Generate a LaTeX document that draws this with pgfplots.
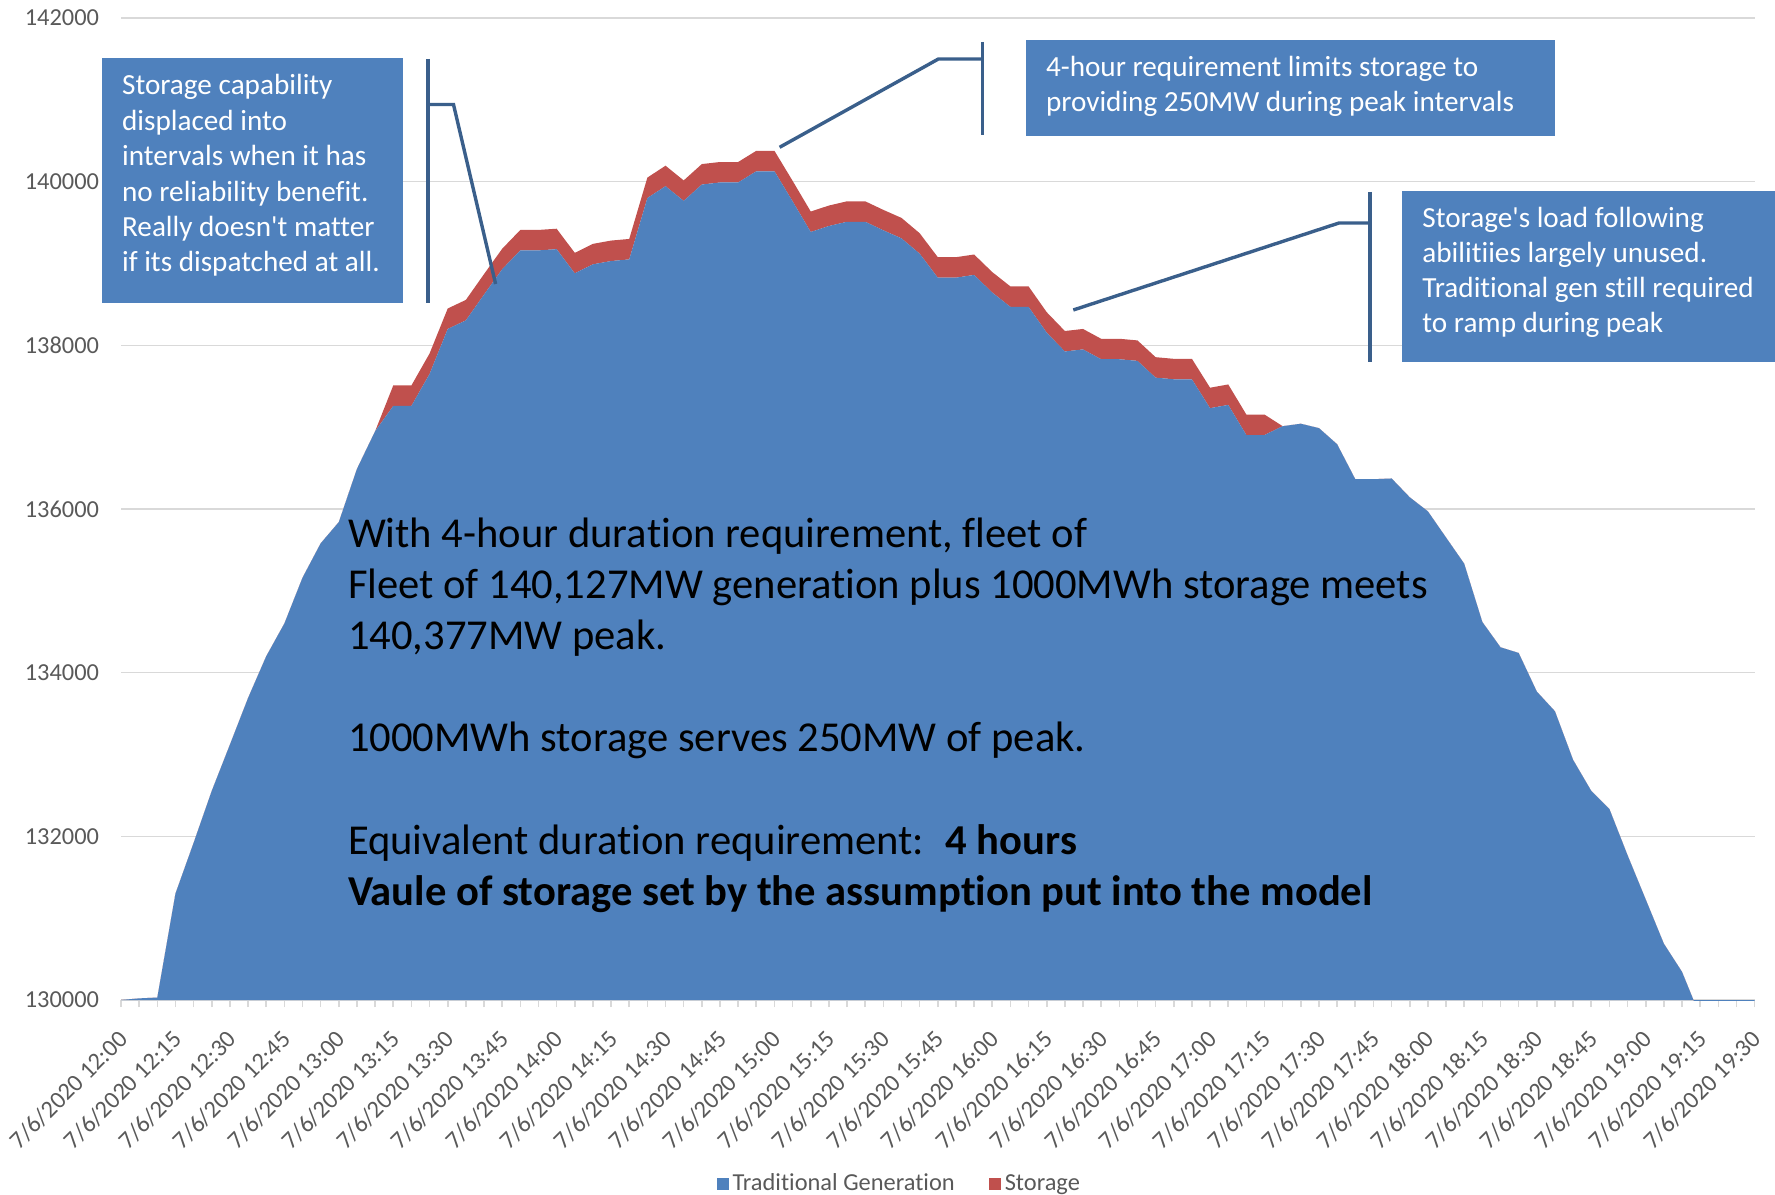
\documentclass[border=0pt]{standalone}
\usepackage{pgfplots}
\pgfplotsset{compat=1.18}
\usepackage{pgfplotstable}
\usepackage{fontspec}
\setmainfont{Carlito}[Ligatures={TeXOff,NoCommon}]
\definecolor{areablue}{HTML}{4F81BD}
\definecolor{areared}{HTML}{C0504D}
\definecolor{boxblue}{HTML}{4F81BD}
\definecolor{callout}{HTML}{3A5F8B}
\definecolor{gridgray}{HTML}{D9D9D9}
\definecolor{labelgray}{HTML}{595959}

\pgfplotstableread{
i trad stor
0 130000 0
1 130020 0
2 130030 0
3 131300 0
4 131920 0
5 132555 0
6 133120 0
7 133690 0
8 134200 0
9 134600 0
10 135160 0
11 135580 0
12 135840 0
13 136490 0
14 136950 0
15 137260 250
16 137260 250
17 137650 250
18 138200 250
19 138305 250
20 138620 250
21 138930 250
22 139160 250
23 139160 250
24 139175 250
25 138880 250
26 138990 250
27 139030 250
28 139050 250
29 139800 250
30 139945 250
31 139765 250
32 139965 250
33 139990 250
34 139990 250
35 140127 250
36 140127 250
37 139760 250
38 139385 250
39 139458 250
40 139510 250
41 139510 250
42 139405 250
43 139307 250
44 139120 250
45 138827 250
46 138827 250
47 138860 250
48 138645 250
49 138470 250
50 138470 250
51 138155 250
52 137925 250
53 137950 250
54 137830 250
55 137830 250
56 137810 250
57 137605 250
58 137585 250
59 137585 250
60 137232 250
61 137272 250
62 136904 250
63 136904 250
64 137012 0
65 137042 0
66 136988 0
67 136791 0
68 136364 0
69 136364 0
70 136373 0
71 136143 0
72 135971 0
73 135651 0
74 135332 0
75 134619 0
76 134310 0
77 134241 0
78 133769 0
79 133528 0
80 132934 0
81 132555 0
82 132334 0
83 131769 0
84 131229 0
85 130688 0
86 130344 0
87 129800 0
88 129700 0
89 129700 0
90 129700 0
}\gen

\begin{document}
\begin{tikzpicture}
\useasboundingbox (0,0) rectangle (887.5pt,597pt);
\begin{axis}[
  at={(60.5pt,97pt)}, anchor=south west,
  scale only axis, width=816.8pt, height=491pt,
  xmin=0, xmax=90, ymin=130000, ymax=142000,
  stack plots=y,
  axis x line*=bottom, axis y line*=left,
  x axis line style={gridgray, line width=1pt},
  y axis line style={draw=none},
  ytick={130000,132000,134000,136000,138000,140000,142000},
  yticklabels={130000,132000,134000,136000,138000,140000,142000},
  ytick style={draw=none},
  ymajorgrids, major grid style={gridgray, line width=0.7pt},
  scaled y ticks=false,
  yticklabel style={font=\fontsize{12.2}{14}\selectfont, text=labelgray, inner sep=0pt, anchor=east},
  yticklabel shift=7.3pt,
  xtick={0,3,...,90},
  minor x tick num=2,
  xtick style={gridgray, line width=0.8pt},
  tick align=outside,
  major tick length=3.5pt, minor tick length=3.5pt,
  xticklabels={7/6/2020 12:00,7/6/2020 12:15,7/6/2020 12:30,7/6/2020 12:45,7/6/2020 13:00,7/6/2020 13:15,7/6/2020 13:30,7/6/2020 13:45,7/6/2020 14:00,7/6/2020 14:15,7/6/2020 14:30,7/6/2020 14:45,7/6/2020 15:00,7/6/2020 15:15,7/6/2020 15:30,7/6/2020 15:45,7/6/2020 16:00,7/6/2020 16:15,7/6/2020 16:30,7/6/2020 16:45,7/6/2020 17:00,7/6/2020 17:15,7/6/2020 17:30,7/6/2020 17:45,7/6/2020 18:00,7/6/2020 18:15,7/6/2020 18:30,7/6/2020 18:45,7/6/2020 19:00,7/6/2020 19:15,7/6/2020 19:30},
  xticklabel style={font=\fontsize{12.2}{14}\selectfont, text=labelgray, inner sep=0pt, anchor=east, xshift=1.2pt, rotate=45},
  xticklabel shift=14pt,
  legend columns=2,
  legend image code/.code={\fill[#1] (0pt,-3pt) rectangle (6pt,3pt);},
  legend style={draw=none, fill=none, at={(0.477,-0.187)}, anchor=center,
    font=\fontsize{12.2}{14}\selectfont, text=labelgray,
    /tikz/every even column/.append style={column sep=15pt}},
]
\addplot [fill=areablue, draw=none] table [x=i, y=trad] {\gen} \closedcycle;
\addlegendentry{Traditional Generation}
\addplot [fill=areared, draw=none] table [x=i, y=stor] {\gen} \closedcycle;
\addlegendentry{Storage}
\end{axis}

\begin{scope}[x=0.5pt,y=0.5pt]
% annotation boxes
\fill[boxblue] (102,1136) rectangle (403,891);
\fill[boxblue] (1026,1154) rectangle (1555,1058);
\fill[boxblue] (1402,1003) rectangle (1775,832);

\begin{scope}[every node/.style={anchor=base west, inner sep=0pt, text=white, font=\fontsize{14.6}{17.7}\selectfont}]
\node at (121.7,1099) {Storage capability};
\node at (121.7,1063.6) {displaced into};
\node at (121.7,1028.2) {intervals when it has};
\node at (121.7,992.8) {no reliability benefit.};
\node at (121.7,957.4) {Really doesn't matter};
\node at (121.7,922) {if its dispatched at all.};
\node at (1045.6,1117) {4-hour requirement limits storage to};
\node at (1045.6,1082) {providing 250MW during peak intervals};
\node at (1422,966.5) {Storage's load following};
\node at (1422,931.4) {abilitiies largely unused.};
\node at (1422,896.3) {Traditional gen still required};
\node at (1422,861.2) {to ramp during peak};
\end{scope}

% callouts
\begin{scope}[draw=callout, line width=1.7pt]
\draw (428,1135) -- (428,891);
\draw (428,1089.5) -- (453.5,1089.5) -- (495.6,910);
\draw (982.5,1152) -- (982.5,1059);
\draw (982.5,1135) -- (938.4,1135) -- (779.6,1046.7);
\draw (1370,1002) -- (1370,832);
\draw (1370,971) -- (1339,971) -- (1073.3,884);
\end{scope}

% main text
\begin{scope}[every node/.style={anchor=base west, inner sep=0pt, text=black, font=\fontsize{21.3}{25.5}\selectfont}]
\node at (347.6,646) {With 4-hour duration requirement, fleet of};
\node at (347.6,595) {Fleet of 140,127MW generation plus 1000MWh storage meets};
\node at (347.6,544) {140,377MW peak.};
\node at (347.6,442) {1000MWh storage serves 250MW of peak.};
\node at (347.6,340) {Equivalent duration requirement:\hspace{0.5em}\textbf{4 hours}};
\node at (347.6,289) {\textbf{Vaule of storage set by the assumption put into the model}};
\end{scope}
\end{scope}
\end{tikzpicture}
\end{document}
